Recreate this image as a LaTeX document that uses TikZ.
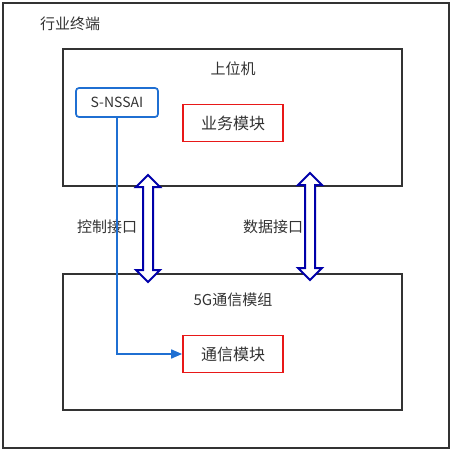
\documentclass[tikz,border=0pt]{standalone}
\usepackage{fontspec}
\setmainfont{Noto Sans CJK SC}
\usetikzlibrary{arrows.meta}
\definecolor{frameg}{HTML}{333333}
\definecolor{lblue}{HTML}{1F6FD2}
\definecolor{dblue}{HTML}{0000AA}
\definecolor{mred}{HTML}{E81818}
\definecolor{txt}{HTML}{333333}
\tikzset{
  frame/.style={draw=frameg,line width=1.8pt},
  redbox/.style={draw=mred,line width=1.7pt,minimum width=100pt,minimum height=37pt,inner sep=0pt,text=txt,font=\fontsize{16}{19}\selectfont},
  bluebox/.style={draw=lblue,line width=1.7pt,rounded corners=3pt,minimum width=82pt,minimum height=29pt,inner sep=0pt,text=txt,font=\fontsize{14}{17}\selectfont},
  lbl/.style={text=txt,font=\fontsize{15}{18}\selectfont,inner sep=0pt},
  dbl/.style={draw=dblue,fill=white,line width=2pt,line join=miter},
  conn/.style={draw=lblue,line width=1.6pt,-{Triangle[length=11pt,width=9pt]}}
}
\begin{document}
\begin{tikzpicture}[x=1pt,y=-1pt]
\useasboundingbox (0,0) rectangle (453,452);
\draw[frame] (3,3) rectangle (449,448);
\node[lbl] (title) at (70,24) {行业终端};
% top box
\draw[frame] (63,49) rectangle (402,186);
\node[lbl] (host) at (233,69) {上位机};
\node[bluebox] (sn) at (117,102.5) {S-NSSAI};
\node[redbox] (biz) at (233,123) {业务模块};
% bottom box
\draw[frame] (63,274) rectangle (402,410);
\node[lbl] (mod) at (233,300) {5G通信模组};
\node[redbox] (comm) at (233,354) {通信模块};
% labels
\node[lbl] (ctl) at (107,227) {控制接口};
\node[lbl] (dat) at (273,227) {数据接口};
% double arrows
\foreach \c/\t/\b in {148/175/282, 310/173/280}{
  \draw[dbl] (\c,\t) -- (\c+12,\t+12) -- (\c+5,\t+12) -- (\c+5,\b-12) -- (\c+12,\b-12)
    -- (\c,\b) -- (\c-12,\b-12) -- (\c-5,\b-12) -- (\c-5,\t+12) -- (\c-12,\t+12) -- cycle;
}
% blue connector
\draw[conn] (sn.south) |- (comm.west);
\end{tikzpicture}
\end{document}
